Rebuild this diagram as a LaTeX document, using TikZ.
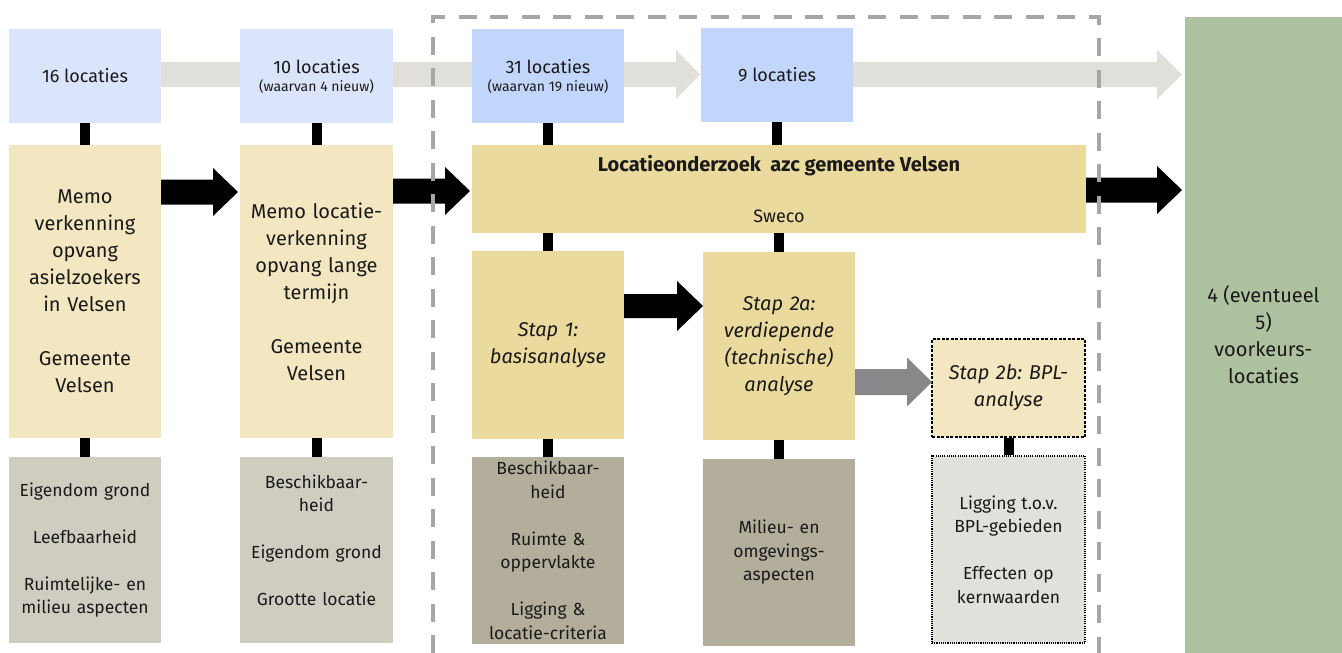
\documentclass[tikz,border=0pt]{standalone}
\usepackage{fontspec}
\setmainfont{Fira Sans}
\usetikzlibrary{calc}
\frenchspacing
\definecolor{topblue}{HTML}{DAE4FA}
\definecolor{midblue}{HTML}{C2D5FB}
\definecolor{paleyel}{HTML}{F2E7C0}
\definecolor{deepyel}{HTML}{EBDA9E}
\definecolor{critgray}{HTML}{CFCDC0}
\definecolor{critdark}{HTML}{B3AD9C}
\definecolor{critlight}{HTML}{E1E0DB}
\definecolor{band}{HTML}{E0DFD9}
\definecolor{darkarrow}{HTML}{88878A}
\definecolor{frame}{HTML}{A6A6A6}
\definecolor{greenbox}{HTML}{AFC2A0}
\definecolor{ink}{HTML}{1A1A1A}
\newcommand\fatarrow[6]{\fill[#1] ($(#2)+(0,-#4)$) -- ($(#3)+(-#5,-#4)$) -- ($(#3)+(-#5,-#6)$) -- (#3) -- ($(#3)+(-#5,#6)$) -- ($(#3)+(-#5,#4)$) -- ($(#2)+(0,#4)$) -- cycle;}
\begin{document}
\begin{tikzpicture}[x=1pt,y=-1pt,
  box/.style={inner sep=0pt, outer sep=0pt, align=center, text=ink},
  topbox/.style={box, minimum width=152pt, minimum height=94pt, font=\fontsize{18}{20}\selectfont},
  memobox/.style={box, fill=paleyel, minimum width=152pt, minimum height=293pt, text width=146pt, font=\fontsize{20}{27}\selectfont},
  critbox/.style={box, minimum width=152pt, minimum height=187pt, text width=148pt, font=\fontsize{17.5}{23.5}\selectfont},
  stepbox/.style={box, fill=deepyel, minimum width=152pt, minimum height=188pt, text width=146pt, font=\fontsize{20}{27}\selectfont\itshape},
  bar/.style={line width=10pt, black}]
\useasboundingbox (0,0) rectangle (1342,653);
% nodes
\node[topbox, fill=topblue] (box1) at (85,76) {16 locaties};
\node[topbox, fill=midblue] (box4) at (777,75) {9 locaties};
\node[box, fill=greenbox, minimum width=157pt, minimum height=636pt, font=\fontsize{20}{27}\selectfont] (green) at (1263.5,335) {4 (eventueel\\5)\\voorkeurs-\\locaties};
% gray bands
\coordinate (g1s) at ($(box1.north east)+(0,45.5)$);
\coordinate (g1e) at ($(box4.north west)+(-1,46.5)$);
\coordinate (g2s) at ($(box4.north east)+(0,46.5)$);
\coordinate (g2e) at ($(green.north west)+(-3,57.5)$);
\fatarrow{band}{g1s}{g1e}{12.5}{24}{24.5}
\fatarrow{band}{g2s}{g2e}{12.5}{25}{24.5}
% boxes over the band
\node[topbox, fill=topblue, minimum width=153pt] (box2) at (316.5,76) {10 locaties\\[-2pt]{\fontsize{14}{16}\selectfont (waarvan 4 nieuw)}};
\node[topbox, fill=midblue] (box3) at (548,76) {31 locaties\\[-2pt]{\fontsize{14}{16}\selectfont (waarvan 19 nieuw)}};
\node[memobox] (memoA) at (85,291.5) {Memo\\verkenning\\opvang\\asielzoekers\\in Velsen\\[27pt]Gemeente\\Velsen};
\node[memobox, minimum width=153pt] (memoB) at (316.5,291.5) {Memo locatie-\\verkenning\\opvang lange\\termijn\\[27pt]Gemeente\\Velsen};
\node[critbox, fill=critgray, minimum height=186pt] (critA) at (85,550) {Eigendom grond\\[23.5pt]Leefbaarheid\\[23.5pt]Ruimtelijke- en\\milieu aspecten};
\node[critbox, fill=critgray, minimum height=186pt, minimum width=153pt] (critB) at (316.5,550) {Beschikbaar-\\heid\\[23.5pt]Eigendom grond\\[23.5pt]Grootte locatie\\[-4pt]\mbox{}};
\node[box, fill=deepyel, minimum width=614pt, minimum height=88pt] (loc) at (779,189) {{\fontsize{20}{22}\selectfont\bfseries Locatieonderzoek\ \ azc gemeente Velsen}\\[33pt]{\fontsize{18}{20}\selectfont Sweco}};
\node[stepbox] (stap1) at (548,345) {Stap 1:\\basisanalyse};
\node[stepbox] (stap2a) at (779,346) {Stap 2a:\\verdiepende\\(technische)\\analyse};
\node[stepbox, fill=paleyel, minimum width=153pt, minimum height=98pt, draw=black, line width=1.1pt, dash pattern=on 3pt off 1.5pt] (stap2b) at (1008.5,388) {Stap 2b: BPL-\\analyse};
\node[critbox, fill=critdark] (crit1) at (548,550.5) {Beschikbaar-\\heid\\[23.5pt]Ruimte \&\\oppervlakte\\[23.5pt]Ligging \&\\locatie-criteria};
\node[critbox, fill=critdark] (crit2a) at (779,552.5) {Milieu- en\\omgevings-\\aspecten};
\node[critbox, fill=critlight, minimum width=153pt, draw=black, line width=1.1pt, dash pattern=on 1.1pt off 1.1pt] (crit2b) at (1008.5,549.5) {Ligging t.o.v.\\BPL-gebieden\\[23.5pt]Effecten op\\kernwaarden};
% connectors
\draw[bar] (box1.south) -- (memoA.north);
\draw[bar] (box2.south) -- (memoB.north);
\draw[bar] (box3.south) -- (box3.south |- loc.north);
\draw[bar] (box4.south) -- (box4.south |- loc.north);
\draw[bar] (stap1.north |- loc.south) -- (stap1.north);
\draw[bar] (stap2a.north |- loc.south) -- (stap2a.north);
\draw[bar] (memoA.south) -- (critA.north);
\draw[bar] (memoB.south) -- (critB.north);
\draw[bar] (stap1.south) -- (crit1.north);
\draw[bar] (stap2a.south) -- (crit2a.north);
\draw[bar] ([yshift=-0.6pt]stap2b.south) -- ([yshift=0.6pt]crit2b.north);
% fat arrows
\coordinate (b1s) at ($(memoA.north east)+(0,47)$);
\coordinate (b1e) at ($(memoB.north west)+(-2,47)$);
\coordinate (b2s) at ($(memoB.north east)+(0,46)$);
\coordinate (b2e) at ($(loc.north west)+(-2,46)$);
\coordinate (b3s) at ($(loc.north east)+(0,45)$);
\coordinate (b3e) at ($(green.north west)+(-3,173)$);
\coordinate (b4s) at ($(stap1.north east)+(0,55)$);
\coordinate (b4e) at ($(stap2a.north west)+(0,54)$);
\coordinate (b5s) at ($(stap2a.north east)+(0,130)$);
\coordinate (b5e) at ($(stap2b.north west)+(0,43)$);
\fatarrow{black}{b1s}{b1e}{12.5}{25}{24}
\fatarrow{black}{b2s}{b2e}{12.5}{25}{24}
\fatarrow{black}{b3s}{b3e}{12.5}{25}{24}
\fatarrow{black}{b4s}{b4e}{12}{26}{25}
\fatarrow{darkarrow}{b5s}{b5e}{13}{25}{24.5}
% dashed frame
\draw[frame, line width=4pt, dash pattern=on 18pt off 13.5pt] (433,653) -- (433,17) -- (1099,17) -- (1099,653);
\end{tikzpicture}
\end{document}
